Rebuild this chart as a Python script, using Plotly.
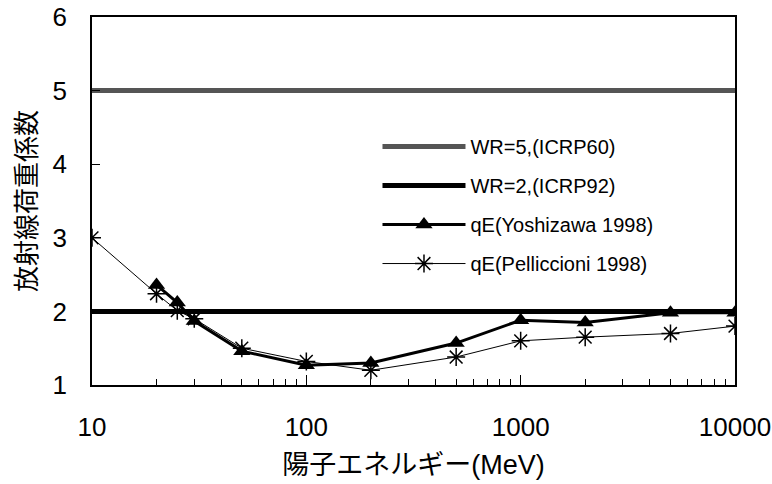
import plotly.graph_objects as go

# Proton energy (MeV) and radiation weighting factors
energy_yoshizawa = [20, 25, 30, 50, 100, 200, 500, 1000, 2000, 5000, 10000]
qe_yoshizawa = [2.36, 2.12, 1.87, 1.46, 1.27, 1.30, 1.57, 1.88, 1.85, 1.98, 1.98]

energy_pelliccioni = [10, 20, 25, 30, 50, 100, 200, 500, 1000, 2000, 5000, 10000]
qe_pelliccioni = [3.0, 2.24, 2.01, 1.9, 1.5, 1.32, 1.2, 1.38, 1.6, 1.65, 1.7, 1.8]

wr_range = [10, 10000]
wr_icrp60 = [5, 5]
wr_icrp92 = [2, 2]

x_ticks = [10, 100, 1000, 10000]
y_ticks = [1, 2, 3, 4, 5, 6]

font_family = "Liberation Sans, Arial, Noto Sans CJK JP, sans-serif"

fig = go.Figure()
fig.add_trace(go.Scatter(
    x=wr_range, y=wr_icrp60, mode="lines", name="WR=5,(ICRP60)",
    line=dict(color="#555555", width=5), legendgroup="a"))
fig.add_trace(go.Scatter(
    x=wr_range, y=wr_icrp92, mode="lines", name="WR=2,(ICRP92)",
    line=dict(color="black", width=5), legendgroup="b"))
fig.add_trace(go.Scatter(
    x=energy_yoshizawa, y=qe_yoshizawa, mode="lines+markers",
    name="qE(Yoshizawa 1998)",
    line=dict(color="black", width=3),
    marker=dict(symbol="triangle-up", size=15, color="black"),
    legendgroup="c"))
fig.add_trace(go.Scatter(
    x=energy_pelliccioni, y=qe_pelliccioni, mode="lines+markers",
    name="qE(Pelliccioni 1998)",
    line=dict(color="black", width=1),
    marker=dict(symbol="asterisk-open", size=15,
                line=dict(color="black", width=1.5)),
    legendgroup="d"))

minor_vals = [m * 10 ** k for k in (1, 2, 3) for m in range(2, 10)]

fig.update_layout(
    width=772, height=484,
    margin=dict(l=92, r=37, t=17, b=99),
    paper_bgcolor="white", plot_bgcolor="white",
    font=dict(family=font_family, size=26, color="black"),
    showlegend=True,
    legend=dict(x=0.444, y=0.701, xanchor="left", yanchor="top",
                bgcolor="rgba(0,0,0,0)", font=dict(size=20),
                tracegroupgap=10, itemwidth=83),
    xaxis=dict(
        type="log", range=[1, 4], tickvals=x_ticks,
        ticktext=[str(v) for v in x_ticks], automargin=False,
        ticks="inside", ticklen=10, tickcolor="black", tickwidth=1,
        showline=True, linecolor="black", linewidth=1.5, mirror=True,
        showgrid=False, zeroline=False, ticklabelstandoff=18,
        minor=dict(tickvals=minor_vals, ticks="inside", ticklen=6,
                   tickcolor="black", showgrid=False),
        title=dict(text="陽子エネルギー(MeV)", standoff=14,
                   font=dict(size=27)),
    ),
    yaxis=dict(
        range=[1, 6], tickvals=y_ticks, automargin=False,
        ticks="inside", ticklen=8, tickcolor="black", tickwidth=1,
        showline=True, linecolor="black", linewidth=1.5, mirror=True,
        showgrid=False, zeroline=False, ticklabelstandoff=18,
        title=dict(text="放射線荷重係数", standoff=8, font=dict(size=26)),
    ),
)

fig.write_html("out.html")
